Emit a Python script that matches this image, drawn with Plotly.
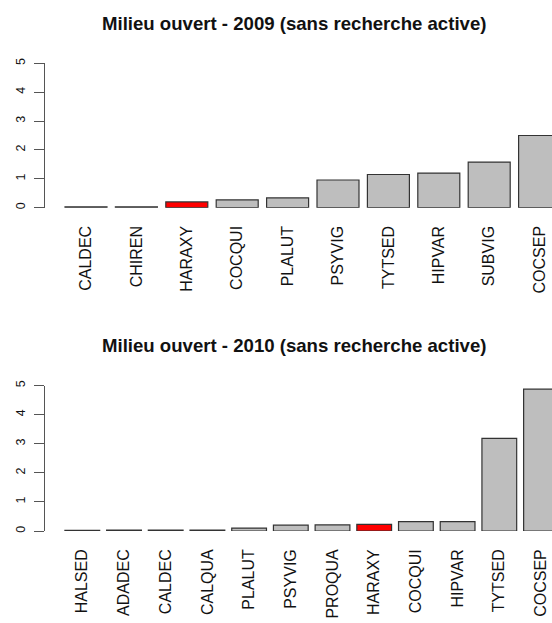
import plotly.graph_objects as go

# Data
species_2009 = ["CALDEC", "CHIREN", "HARAXY", "COCQUI", "PLALUT", "PSYVIG", "TYTSED", "HIPVAR", "SUBVIG", "COCSEP"]
values_2009 = [0.03, 0.03, 0.2, 0.27, 0.34, 0.96, 1.15, 1.2, 1.58, 2.5]
species_2010 = ["HALSED", "ADADEC", "CALDEC", "CALQUA", "PLALUT", "PSYVIG", "PROQUA", "HARAXY", "COCQUI", "HIPVAR", "TYTSED", "COCSEP"]
values_2010 = [0.02, 0.03, 0.03, 0.03, 0.1, 0.2, 0.21, 0.23, 0.32, 0.32, 3.19, 4.88]
highlight = "HARAXY"
y_ticks = [0, 1, 2, 3, 4, 5]

title_2009 = "Milieu ouvert - 2009 (sans recherche active)"
title_2010 = "Milieu ouvert - 2010 (sans recherche active)"

W, H = 552, 623
FONT = "Liberation Sans, Arial, Helvetica, sans-serif"
GREY = "#bebebe"
RED = "#ff0000"


def colors(names):
    return [RED if n == highlight else GREY for n in names]


fig = go.Figure()
fig.add_trace(go.Bar(x=species_2009, y=values_2009, marker=dict(color=colors(species_2009),
                     line=dict(color="#333333", width=1.2)), xaxis="x", yaxis="y", showlegend=False))
fig.add_trace(go.Bar(x=species_2010, y=values_2010, marker=dict(color=colors(species_2010),
                     line=dict(color="#333333", width=1.2)), xaxis="x2", yaxis="y2", showlegend=False))

x_left = 45 / W


def cat_range(first_center_px, pitch):
    return [(45 - first_center_px) / pitch, (552 - first_center_px) / pitch]


xaxis_common = dict(type="category", tickangle=-90, ticks="", ticklabelstandoff=14,
                    showline=False, showgrid=False, zeroline=False,
                    tickfont=dict(family=FONT, size=16, color="#111111"), domain=[x_left, 1])
yaxis_common = dict(range=[0, 5], tickvals=y_ticks, ticks="outside", ticklen=10, tickwidth=1,
                    tickcolor="#555555", showline=True, linecolor="#555555", linewidth=1,
                    showgrid=False, zeroline=False, tickangle=-90, ticklabelstandoff=4,
                    tickfont=dict(family=FONT, size=12.5, color="#111111"))

fig.update_layout(
    width=W, height=H,
    margin=dict(l=0, r=0, t=0, b=0),
    plot_bgcolor="white", paper_bgcolor="white",
    bargap=1 / 6,
    xaxis=dict(xaxis_common, anchor="y", range=cat_range(86.0, 50.4)),
    yaxis=dict(yaxis_common, anchor="x", domain=[1 - 205 / H, 1 - 59 / H]),
    xaxis2=dict(xaxis_common, anchor="y2", range=cat_range(82.3, 41.7)),
    yaxis2=dict(yaxis_common, anchor="x2", domain=[1 - 532 / H, 1 - 385 / H]),
    annotations=[
        dict(text="<b>" + title_2009 + "</b>", x=294 / W, y=1 - 19 / H, xref="paper", yref="paper",
             xanchor="center", yanchor="middle", showarrow=False,
             font=dict(family=FONT, size=18.6, color="#111111")),
        dict(text="<b>" + title_2010 + "</b>", x=294 / W, y=1 - 344 / H, xref="paper", yref="paper",
             xanchor="center", yanchor="middle", showarrow=False,
             font=dict(family=FONT, size=18.6, color="#111111")),
    ],
)

fig.write_html("out.html", config={"displayModeBar": False},
               post_script="document.body.style.margin='0';document.body.style.overflow='hidden';")
